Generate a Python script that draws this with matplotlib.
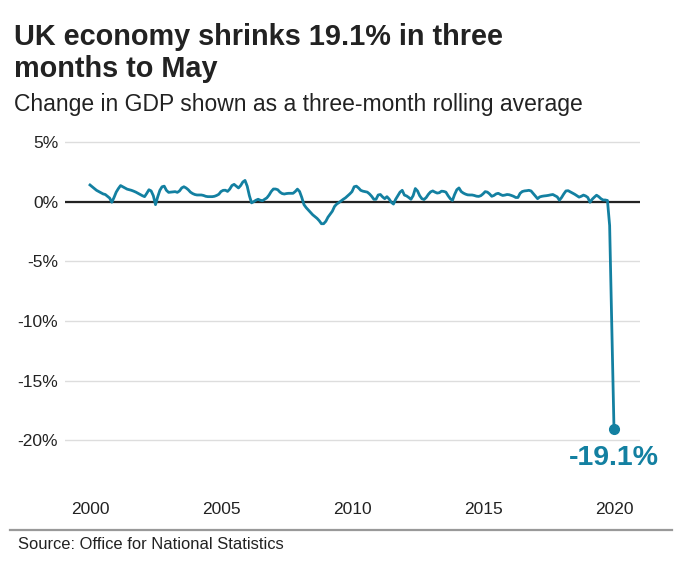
import numpy as np
import matplotlib
matplotlib.use("Agg")
import matplotlib.pyplot as plt
from matplotlib.lines import Line2D

# three-month rolling change in GDP (%), monthly, ending May 2020
gdp_change = [
    1.4, 1.25, 1.1, 0.95, 0.85, 0.75, 0.65, 0.6, 0.45, 0.3, -0.05, 0.35,
    0.8, 1.1, 1.35, 1.25, 1.15, 1.05, 1.0, 0.95, 0.88, 0.8, 0.7, 0.6,
    0.5, 0.42, 0.7, 1.0, 0.9, 0.5, -0.25, 0.4, 0.95, 1.25, 1.3, 0.95,
    0.78, 0.8, 0.82, 0.84, 0.78, 0.9, 1.15, 1.25, 1.15, 1.0, 0.8, 0.68,
    0.6, 0.56, 0.56, 0.56, 0.52, 0.45, 0.42, 0.42, 0.42, 0.45, 0.52, 0.62,
    0.85, 0.95, 0.96, 0.86, 1.05, 1.35, 1.45, 1.3, 1.15, 1.35, 1.65, 1.78,
    1.3, 0.5, -0.1, 0.0, 0.12, 0.2, 0.12, 0.08, 0.2, 0.32, 0.55, 0.85,
    1.06, 1.06, 1.0, 0.8, 0.68, 0.64, 0.68, 0.7, 0.7, 0.7, 0.85, 1.05,
    0.85, 0.35, -0.25, -0.5, -0.7, -0.9, -1.1, -1.25, -1.4, -1.6, -1.85, -1.85,
    -1.65, -1.3, -1.05, -0.8, -0.4, -0.2, -0.08, 0.06, 0.2, 0.32, 0.48, 0.65,
    0.84, 1.25, 1.3, 1.15, 0.95, 0.88, 0.84, 0.8, 0.65, 0.45, 0.2, 0.2,
    0.56, 0.6, 0.4, 0.25, 0.42, 0.22, -0.05, -0.2, 0.2, 0.5, 0.8, 0.95,
    0.55, 0.48, 0.35, 0.2, 0.5, 1.1, 0.9, 0.5, 0.25, 0.18, 0.35, 0.62,
    0.82, 0.9, 0.8, 0.72, 0.75, 0.88, 0.86, 0.8, 0.5, 0.25, 0.1, 0.6,
    1.0, 1.15, 0.85, 0.72, 0.63, 0.57, 0.56, 0.56, 0.52, 0.46, 0.44, 0.5,
    0.65, 0.84, 0.8, 0.65, 0.45, 0.52, 0.65, 0.7, 0.6, 0.52, 0.55, 0.6,
    0.58, 0.52, 0.45, 0.35, 0.35, 0.7, 0.85, 0.9, 0.92, 0.95, 0.9, 0.68,
    0.45, 0.25, 0.4, 0.45, 0.48, 0.5, 0.53, 0.57, 0.6, 0.5, 0.4, 0.12,
    0.35, 0.65, 0.9, 0.92, 0.82, 0.72, 0.62, 0.5, 0.38, 0.45, 0.55, 0.48,
    0.35, -0.05, 0.2, 0.38, 0.54, 0.42, 0.25, 0.14, 0.14, 0.1, -2.0, -10.4,
    -19.1,
]
year_ticks = [2000, 2005, 2010, 2015, 2020]
pct_ticks = [5, 0, -5, -10, -15, -20]

teal = "#1380a1"
dark = "#222222"
font = "Liberation Sans"

x = 2000 + np.arange(len(gdp_change)) / 12

fig = plt.figure(figsize=(6.81, 5.70), dpi=100)
ax = fig.add_axes([65 / 681, 1 - 490 / 570, 575 / 681, 355 / 570])

ax.plot(x, gdp_change, color=teal, lw=2.0, solid_joinstyle="round", zorder=3)
ax.plot(x[-1], gdp_change[-1], "o", color=teal, ms=7, zorder=4)
ax.axhline(0, color=dark, lw=1.6, zorder=2)

ax.annotate("-19.1%", (x[-1], gdp_change[-1]), xytext=(0, -11),
            textcoords="offset points", ha="center", va="top",
            fontsize=20.5, fontweight="bold", color=teal, family=font)

ax.set_xlim(2000 - 25 / 26.2, 2000 + 550 / 26.2)
ax.set_ylim(-24.18, 5.59)
ax.set_yticks(pct_ticks)
ax.set_yticklabels([f"{v}%" for v in pct_ticks])
ax.set_xticks(year_ticks)
ax.set_xticklabels([str(y) for y in year_ticks])
ax.grid(axis="y", color="#dddddd", lw=1)
ax.grid(axis="x", visible=False)
for s in ax.spines.values():
    s.set_visible(False)
ax.tick_params(axis="y", length=0, pad=5, labelsize=12.5, labelcolor=dark)
ax.tick_params(axis="x", length=0, pad=9, labelsize=12.5, labelcolor=dark)
for lab in ax.get_xticklabels() + ax.get_yticklabels():
    lab.set_family(font)

title_lines = ["UK economy shrinks 19.1% in three", "months to May"]
for line, base in zip(title_lines, [45, 77]):
    fig.text(14 / 681, 1 - base / 570, line, ha="left", va="baseline",
             fontsize=20.8, fontweight="bold", color=dark, family=font)
fig.text(14 / 681, 1 - 111 / 570, "Change in GDP shown as a three-month rolling average",
         ha="left", va="baseline", fontsize=16.5, color=dark, family=font)

fig.add_artist(Line2D([10 / 681, 672 / 681], [1 - 530 / 570, 1 - 530 / 570],
                      color="#999999", lw=1.6, transform=fig.transFigure))
fig.text(18 / 681, 1 - 549 / 570, "Source: Office for National Statistics",
         ha="left", va="baseline", fontsize=11.9, color=dark, family=font)

fig.savefig("out.png", dpi=100, facecolor="white")
